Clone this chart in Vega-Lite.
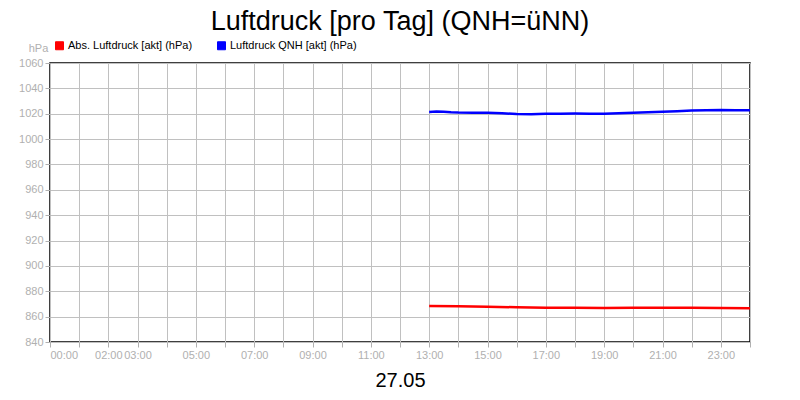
{
  "$schema": "https://vega.github.io/schema/vega-lite/v6.json",
  "autosize": "none",
  "width": 700,
  "height": 279,
  "padding": {"top": 63, "left": 50, "right": 50, "bottom": 58},
  "background": "white",
  "title": {
    "text": "Luftdruck [pro Tag] (QNH=üNN)",
    "font": "Liberation Sans",
    "fontSize": 27,
    "fontWeight": "normal",
    "color": "black",
    "anchor": "middle",
    "offset": 4
  },
  "data": {
    "values": [
      {"h": 13.0, "v": 1021.4, "s": "Luftdruck QNH [akt] (hPa)"},
      {"h": 13.25, "v": 1021.7, "s": "Luftdruck QNH [akt] (hPa)"},
      {"h": 13.5, "v": 1021.5, "s": "Luftdruck QNH [akt] (hPa)"},
      {"h": 13.75, "v": 1021.1, "s": "Luftdruck QNH [akt] (hPa)"},
      {"h": 14.0, "v": 1020.9, "s": "Luftdruck QNH [akt] (hPa)"},
      {"h": 14.5, "v": 1020.8, "s": "Luftdruck QNH [akt] (hPa)"},
      {"h": 15.0, "v": 1020.7, "s": "Luftdruck QNH [akt] (hPa)"},
      {"h": 15.5, "v": 1020.4, "s": "Luftdruck QNH [akt] (hPa)"},
      {"h": 16.0, "v": 1019.8, "s": "Luftdruck QNH [akt] (hPa)"},
      {"h": 16.5, "v": 1019.6, "s": "Luftdruck QNH [akt] (hPa)"},
      {"h": 17.0, "v": 1019.9, "s": "Luftdruck QNH [akt] (hPa)"},
      {"h": 17.5, "v": 1020.0, "s": "Luftdruck QNH [akt] (hPa)"},
      {"h": 18.0, "v": 1020.1, "s": "Luftdruck QNH [akt] (hPa)"},
      {"h": 18.5, "v": 1020.0, "s": "Luftdruck QNH [akt] (hPa)"},
      {"h": 19.0, "v": 1019.9, "s": "Luftdruck QNH [akt] (hPa)"},
      {"h": 19.5, "v": 1020.3, "s": "Luftdruck QNH [akt] (hPa)"},
      {"h": 20.0, "v": 1020.8, "s": "Luftdruck QNH [akt] (hPa)"},
      {"h": 20.5, "v": 1021.1, "s": "Luftdruck QNH [akt] (hPa)"},
      {"h": 21.0, "v": 1021.5, "s": "Luftdruck QNH [akt] (hPa)"},
      {"h": 21.5, "v": 1022.0, "s": "Luftdruck QNH [akt] (hPa)"},
      {"h": 22.0, "v": 1022.5, "s": "Luftdruck QNH [akt] (hPa)"},
      {"h": 22.5, "v": 1022.8, "s": "Luftdruck QNH [akt] (hPa)"},
      {"h": 23.0, "v": 1022.9, "s": "Luftdruck QNH [akt] (hPa)"},
      {"h": 23.5, "v": 1022.7, "s": "Luftdruck QNH [akt] (hPa)"},
      {"h": 24.0, "v": 1022.8, "s": "Luftdruck QNH [akt] (hPa)"},
      {"h": 13.0, "v": 868.4, "s": "Abs. Luftdruck [akt] (hPa)"},
      {"h": 14.0, "v": 868.1, "s": "Abs. Luftdruck [akt] (hPa)"},
      {"h": 15.0, "v": 867.8, "s": "Abs. Luftdruck [akt] (hPa)"},
      {"h": 16.0, "v": 867.4, "s": "Abs. Luftdruck [akt] (hPa)"},
      {"h": 17.0, "v": 867.1, "s": "Abs. Luftdruck [akt] (hPa)"},
      {"h": 18.0, "v": 867.0, "s": "Abs. Luftdruck [akt] (hPa)"},
      {"h": 19.0, "v": 866.9, "s": "Abs. Luftdruck [akt] (hPa)"},
      {"h": 20.0, "v": 867.0, "s": "Abs. Luftdruck [akt] (hPa)"},
      {"h": 21.0, "v": 867.0, "s": "Abs. Luftdruck [akt] (hPa)"},
      {"h": 22.0, "v": 867.0, "s": "Abs. Luftdruck [akt] (hPa)"},
      {"h": 23.0, "v": 866.9, "s": "Abs. Luftdruck [akt] (hPa)"},
      {"h": 24.0, "v": 866.6, "s": "Abs. Luftdruck [akt] (hPa)"}
    ]
  },
  "mark": {"type": "line", "strokeWidth": 2.5, "interpolate": "linear"},
  "encoding": {
    "x": {
      "field": "h",
      "type": "quantitative",
      "scale": {"domain": [0, 24], "nice": false, "zero": false},
      "axis": {
        "values": [0, 1, 2, 3, 4, 5, 6, 7, 8, 9, 10, 11, 12, 13, 14, 15, 16, 17, 18, 19, 20, 21, 22, 23, 24],
        "labelExpr": "indexof([0, 2, 3, 5, 7, 9, 11, 13, 15, 17, 19, 21, 23], datum.value) >= 0 ? (datum.value < 10 ? '0' : '') + datum.value + ':00' : ''",
        "title": "27.05",
        "titleFontSize": 20,
        "titleFontWeight": "normal",
        "titleColor": "black",
        "titlePadding": 10,
        "labelPadding": 2
      }
    },
    "y": {
      "field": "v",
      "type": "quantitative",
      "scale": {"domain": [840, 1060], "nice": false, "zero": false},
      "axis": {
        "values": [840, 860, 880, 900, 920, 940, 960, 980, 1000, 1020, 1040, 1060],
        "format": "d",
        "title": "hPa",
        "titleAngle": 0,
        "titleX": -12,
        "titleY": -12,
        "titleAlign": "center",
        "titleBaseline": "alphabetic",
        "titleColor": "#b0b0b0",
        "titleFontSize": 11,
        "titleFontWeight": "normal",
        "labelPadding": 2
      }
    },
    "color": {
      "field": "s",
      "type": "nominal",
      "scale": {
        "domain": ["Abs. Luftdruck [akt] (hPa)", "Luftdruck QNH [akt] (hPa)"],
        "range": ["#ff0000", "#0000ff"]
      },
      "legend": {
        "title": null,
        "orient": "none",
        "direction": "horizontal",
        "legendX": 4,
        "legendY": -23,
        "symbolType": "square",
        "symbolSize": 64,
        "symbolStrokeWidth": 1,
        "symbolOpacity": 1,
        "labelFontSize": 11,
        "labelColor": "black",
        "labelOffset": 3,
        "columnPadding": 22,
        "padding": 0,
        "encode": {
          "symbols": {
            "update": {
              "fill": {"scale": "color", "field": "value"},
              "stroke": {"value": "#333333"},
              "strokeWidth": {"value": 1}
            }
          }
        }
      }
    }
  },
  "config": {
    "font": "Liberation Sans",
    "view": {"stroke": "black", "strokeWidth": 1.5},
    "axis": {
      "domain": false,
      "gridColor": "#c0c0c0",
      "gridOpacity": 1,
      "gridWidth": 1,
      "tickColor": "#b0b0b0",
      "tickSize": 5,
      "labelColor": "#b0b0b0",
      "labelFontSize": 11,
      "labelFont": "Liberation Sans"
    }
  }
}
